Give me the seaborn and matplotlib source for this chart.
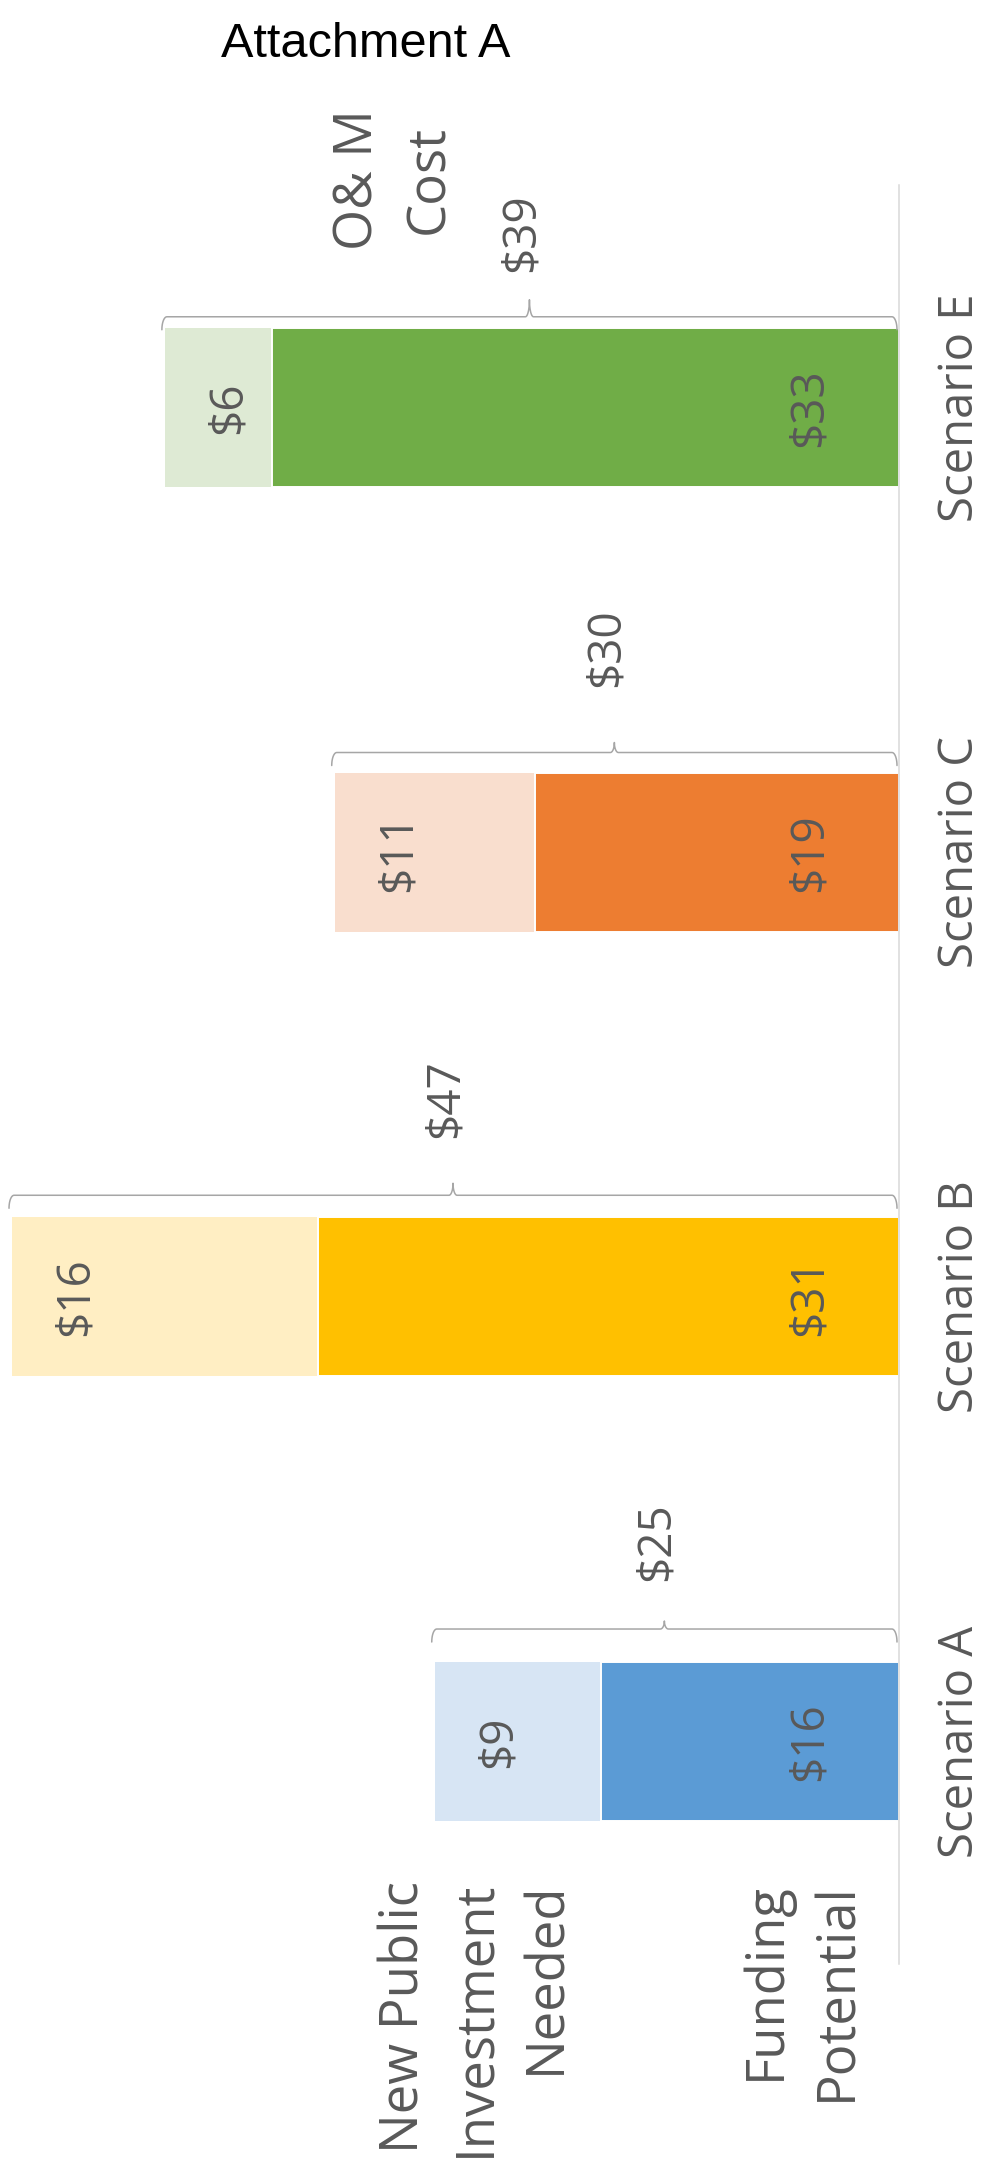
import numpy as np
import pandas as pd
import matplotlib
matplotlib.use("Agg")
import matplotlib.pyplot as plt
import seaborn as sns

# ---------------- data ----------------
scenarios = ["Scenario E", "Scenario C", "Scenario B", "Scenario A"]
funding_potential = [33.2, 19.3, 30.8, 15.8]
new_investment = [5.7, 10.6, 16.2, 8.8]
dark_colors = ["#70AD47", "#ED7D31", "#FFC000", "#5B9BD5"]
light_colors = ["#DEEAD4", "#F9DECE", "#FFEEC3", "#D7E5F4"]
title_text = "Attachment A"
om_label = "O& M\nCost"
legend_top = "New Public\nInvestment\nNeeded"
legend_bottom = "Funding\nPotential"

# ---------------- layout (pixels) ----------------
bracket_gap_px = [11, 20, 22, 33]
bracket_tip_px = [17, 10, 12, 8]
total_label_gap_px = [95, 125, 119, 120]

totals = [f + n for f, n in zip(funding_potential, new_investment)]
df = pd.DataFrame({"scenario": scenarios, "funding": funding_potential, "total": totals})

W, H, DPI = 991, 2167, 100
TXT = "#595959"
sns.set_theme(style="white")
plt.rcParams["font.family"] = ["Open Sans", "DejaVu Sans"]

fig = plt.figure(figsize=(W / DPI, H / DPI), dpi=DPI, facecolor="white")
ax_l, ax_r, ax_t, ax_b = 0, 899, 185, 1964
ax = fig.add_axes([ax_l / W, 1 - ax_b / H, (ax_r - ax_l) / W, (ax_b - ax_t) / H])

BW = 0.358
sns.barplot(data=df, y="scenario", x="total", hue="scenario", order=scenarios,
            hue_order=scenarios, palette=light_colors, orient="h", width=BW,
            saturation=1, legend=False, linewidth=0, ax=ax)
sns.barplot(data=df, y="scenario", x="funding", hue="scenario", order=scenarios,
            hue_order=scenarios, palette=dark_colors, orient="h", width=BW,
            saturation=1, legend=False, edgecolor="white", linewidth=1.4, ax=ax)

px_per_unit = 18.872
ax.set_xlim((ax_r - ax_l) / px_per_unit, 0)
ax.set_ylim(len(scenarios) - 0.5, -0.5)
ax.set_xlabel("")
ax.set_ylabel("")
ax.set_xticks([])
ax.grid(False)
for s in ["top", "bottom", "left"]:
    ax.spines[s].set_visible(False)
ax.spines["right"].set_visible(True)
ax.spines["right"].set_color("#D9D9D9")
ax.spines["right"].set_linewidth(1.1)

ax.yaxis.tick_right()
ax.set_yticks(range(len(scenarios)))
ax.set_yticklabels(scenarios)
ax.tick_params(axis="y", length=0, pad=27, labelsize=34, labelcolor=TXT,
               labelright=True, labelleft=False)
for lbl in ax.get_yticklabels():
    lbl.set_rotation(90)
    lbl.set_va("center")
    lbl.set_ha("left")


def pt(px):
    return px * 72.0 / DPI


VAL_FS = 33
# value labels
for i, (f, n, t) in enumerate(zip(funding_potential, new_investment, totals)):
    ax.annotate(f"${f:.0f}", xy=(0, i), xytext=(-pt(89), 0), textcoords="offset points",
                rotation=90, ha="center", va="center", fontsize=VAL_FS, color=TXT)
    ax.annotate(f"${n:.0f}", xy=(t, i), xytext=(pt(64), 0), textcoords="offset points",
                rotation=90, ha="center", va="center", fontsize=VAL_FS, color=TXT)
    ax.annotate(f"${t:.0f}", xy=(t / 2, i - BW / 2),
                xytext=(-pt(10), pt(total_label_gap_px[i])), textcoords="offset points",
                rotation=90, ha="center", va="center", fontsize=VAL_FS, color=TXT)

# braces
to_disp = ax.transData.transform
inv = ax.transData.inverted().transform
hook, r, w = 13, 5, 4
for i, t in enumerate(totals):
    L, yt = to_disp((t, i - BW / 2))
    R, _ = to_disp((0, i - BW / 2))
    L -= 3
    R -= 2
    yl = yt + bracket_gap_px[i]
    tip = bracket_tip_px[i]
    M = (L + R) / 2
    th = np.linspace(0, np.pi / 2, 12)
    xs, ys = [], []
    xs += list(L + r * (1 - np.cos(th)))
    ys += list(yl - hook + hook * np.sin(th))
    xs += list(M - w + w * np.sin(th))
    ys += list(yl + tip * (1 - np.cos(th)))
    xs += list(M + w - w * np.sin(th[::-1]))
    ys += list(yl + tip * (1 - np.cos(th[::-1])))
    xs += list(R - r * (1 - np.cos(th[::-1])))
    ys += list(yl - hook + hook * np.sin(th[::-1]))
    pts = inv(np.column_stack([xs, ys]))
    ax.plot(pts[:, 0], pts[:, 1], color="#A6A6A6", lw=1.1, clip_on=False,
            solid_capstyle="round")

# free texts
fig.text(366 / W, 1 - 57 / H, title_text, ha="center", va="baseline", fontsize=35,
         color="black", family=["Liberation Sans", "DejaVu Sans"])
fig.text(394 / W, 1 - 180 / H, om_label, rotation=90, ha="center", va="center",
         multialignment="center", fontsize=38, color=TXT, linespacing=1.43)
fig.text(476 / W, 1 - 1881 / H, legend_top, rotation=90, ha="center", va="top",
         multialignment="right", fontsize=38, color=TXT, linespacing=1.43)
fig.text(802 / W, 1 - 1882 / H, legend_bottom, rotation=90, ha="center", va="top",
         multialignment="right", fontsize=38, color=TXT, linespacing=1.43)

fig.savefig("out.png", dpi=DPI, facecolor="white")
